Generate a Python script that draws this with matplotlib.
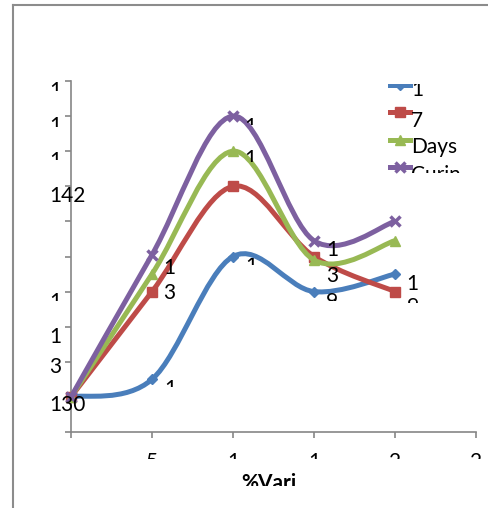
import numpy as np
import matplotlib
matplotlib.use('Agg')
import matplotlib.pyplot as plt
from matplotlib.path import Path
from matplotlib.patches import PathPatch
from matplotlib.lines import Line2D
from matplotlib.transforms import Bbox, IdentityTransform

plt.rcParams['font.family'] = ['Lato', 'DejaVu Sans']

W, H = 489, 508

# data
x_vals = [0, 5, 10, 15, 20]
blue = [130, 131, 138, 136, 137]
red = [130, 136, 142, 138, 136]
green = [130, 137, 144, 137.8, 138.9]
purple = [130, 138.1, 146, 138.9, 140]
series_names = ['1', '7', 'Days', 'Curing']

x_ticks = [0, 5, 10, 15, 20, 25]
x_tick_labels = ['', '5', '1', '1', '2', '2']
y_ticks = [128, 130, 132, 134, 136, 138, 140, 142, 144, 146, 148]
y_tick_labels = ['', '130', '3', '1', '1', '', '', '142', '1', '1', '1']
x_title = '%Vari'

# (series, point, text) for the cut-off data labels
point_labels = [(0, 1, '1'), (2, 1, '1'), (1, 1, '3'),
                (3, 2, '1'), (2, 2, '1'), (0, 2, '1'),
                (3, 3, '1'), (1, 3, '3'), (0, 3, '9'),
                (0, 4, '1'), (1, 4, '9')]

# layout: dx, baseline dy, clip rows (top, bottom) relative to the point, px
label_layout = [(12, 16, 1, 8), (11, 0, None, None), (11, 7, None, None),
                (11, 17, 2, 9), (11, 14, -1, 11), (12, 16, 1, 8),
                (12, 15, None, None), (12, 25, None, None), (12, 16, 1, 9),
                (11, 16, None, None), (12, 21, 6, 11)]

colors = ['#4A7EBB', '#BE4B48', '#98B954', '#7D60A0']
markers = ['D', 's', '^', 'x']
msizes = [5.5, 6.5, 7, 7]
grey = '#868686'
FS = 15

fig = plt.figure(figsize=(W / 100, H / 100), dpi=100)
ax = fig.add_axes([71 / W, (H - 432) / H, 405 / W, 351 / H])
ax.set_xlim(0, 25)
ax.set_ylim(128, 148)
for s in ['top', 'right']:
    ax.spines[s].set_visible(False)
for s in ['left', 'bottom']:
    ax.spines[s].set_color(grey)
    ax.spines[s].set_linewidth(1.2)
ax.set_xticks(x_ticks)
ax.set_yticks(y_ticks)
ax.tick_params(colors=grey, width=1.2, length=4, direction='out',
               labelleft=False, labelbottom=False)


def smooth_path(xs, ys):
    pts = np.column_stack([xs, ys]).astype(float)
    n = len(pts)
    verts = [pts[0]]
    codes = [Path.MOVETO]
    for i in range(n - 1):
        p0 = pts[i - 1] if i > 0 else pts[i]
        p1, p2 = pts[i], pts[i + 1]
        p3 = pts[i + 2] if i + 2 < n else pts[i + 1]
        verts += [p1 + (p2 - p0) / 6, p2 - (p3 - p1) / 6, p2]
        codes += [Path.CURVE4] * 3
    return Path(verts, codes)


all_series = [blue, red, green, purple]
for i, ys in enumerate(all_series):
    patch = PathPatch(smooth_path(x_vals, ys), fill=False, edgecolor=colors[i],
                      lw=3.6, capstyle='round', joinstyle='round',
                      zorder=2 + i, clip_on=False)
    ax.add_patch(patch)
    ax.plot(x_vals, ys, ls='none', marker=markers[i], ms=msizes[i],
            color=colors[i], mew=2.5 if markers[i] == 'x' else 1,
            zorder=2.5 + i, clip_on=False)

ident = IdentityTransform()


def put_text(x, y, s, clip=None, **kw):
    # x, y in display px; clip = (x0, y0, x1, y1) in picture px from top
    t = fig.text(x, y, s, transform=ident, fontsize=FS, color='black',
                 va='baseline', **kw)
    if clip is not None:
        x0, y0, x1, y1 = clip
        t.set_clip_box(Bbox([[x0, H - y1], [x1, H - y0]]))
        t.set_clip_on(True)
    return t


# data labels
for (si, pi, s), (dx, dyb, c0, c1) in zip(point_labels, label_layout):
    xd, yd = ax.transData.transform((x_vals[pi], all_series[si][pi]))
    ytop = H - yd
    clip = None
    if c0 is not None:
        clip = (xd + dx - 5, ytop + c0, xd + dx + 30, ytop + c1)
    put_text(xd + dx, yd - dyb, s, clip=clip)

# y tick labels (wrapped / cut in the original)
y_dy = {130: 14, 132: 11}
y_cut = {148: 10, 146: 11, 144: 9, 136: 9}
for v, s in zip(y_ticks, y_tick_labels):
    if not s:
        continue
    yd = ax.transData.transform((0, v))[1]
    ty = H - yd
    clip = None
    if v in y_cut:
        clip = (0, ty - 5, 120, ty + y_cut[v])
    put_text(49, yd - y_dy.get(v, 16), s, clip=clip, ha='left')

# x tick labels, only their tops are visible
for v, s in zip(x_ticks, x_tick_labels):
    if not s:
        continue
    xd, yd = ax.transData.transform((v, 128))
    ty = H - yd
    put_text(xd, yd - 36, s, clip=(0, ty + 10, W, ty + 27), ha='center')

put_text(269, H - 489, x_title, clip=(0, 440, W, 486), ha='center',
         fontweight='bold')

# legend
leg_line_y = [85, 111.5, 140, 167]
leg_base_y = [96, 127, 153, 181]
leg_clip = Bbox([[380, H - 173], [461, H - 84]])
for i, name in enumerate(series_names):
    ly = H - leg_line_y[i]
    ln = Line2D([390, 400, 410], [ly, ly, ly], transform=ident,
                color=colors[i], lw=3.6, marker=markers[i], markevery=[1],
                ms=msizes[i], mew=2.5 if markers[i] == 'x' else 1)
    ln.set_clip_box(leg_clip)
    fig.add_artist(ln)
    put_text(411, H - leg_base_y[i], name, clip=(380, 84, 461, 173),
             ha='left')

# outer chart frame
frame_c = '#8c8c8c'
fig.add_artist(Line2D([13, W], [H - 5, H - 5], transform=ident,
                      color=frame_c, lw=1.5))
fig.add_artist(Line2D([13, 13], [H - 5, 0], transform=ident,
                      color=frame_c, lw=1.5))

fig.savefig('out.png', dpi=100)
